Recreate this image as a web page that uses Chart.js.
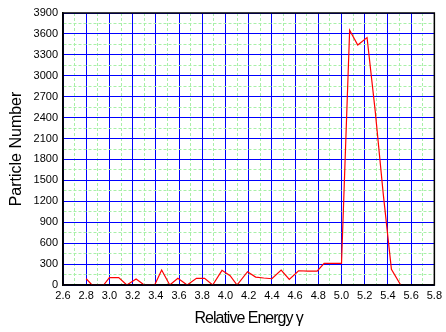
<!DOCTYPE html>
<html>
<head>
<meta charset="utf-8">
<script src="https://cdn.jsdelivr.net/npm/chart.js@4/dist/chart.umd.min.js"></script>
<style>
html,body{margin:0;padding:0;background:#fff;}
#wrap{width:446px;height:332px;position:relative;}
</style>
</head>
<body>
<div id="wrap"><canvas id="c"></canvas></div>
<script>
// Data
const energy = [2.80, 2.85, 2.95, 3.00, 3.08, 3.15, 3.23, 3.30, 3.39, 3.45, 3.52, 3.59, 3.67, 3.75, 3.82, 3.89, 3.97, 4.04, 4.10, 4.19, 4.26, 4.33, 4.40, 4.48, 4.55, 4.63, 4.71, 4.79, 4.85, 4.92, 5.00, 5.07, 5.14, 5.22, 5.29, 5.36, 5.43, 5.51];
const particles = [90, 0, 0, 105, 105, 0, 86, 0, 0, 214, 0, 95, 0, 95, 95, 0, 210, 133, 0, 190, 114, 100, 90, 214, 81, 204, 200, 200, 310, 310, 310, 3653, 3440, 3548, 2500, 1300, 224, 0];
const xTickLabels = ['2.6','2.8','3.0','3.2','3.4','3.6','3.8','4.0','4.2','4.4','4.6','4.8','5.0','5.2','5.4','5.6','5.8'];
const yTickLabels = ['0','300','600','900','1200','1500','1800','2100','2400','2700','3000','3300','3600','3900'];
const xTitle = 'Relative Energy \u03B3';
const yTitle = 'Particle Number';

const xMin = 2.6, xMax = 5.8, yMin = 0, yMax = 3900;
const isMajorX = v => Math.round(v * 10) % 2 === 0;
const isMajorY = v => Math.round(v) % 300 === 0;

const framePlugin = {
  id: 'frame',
  afterDraw(chart) {
    const {ctx, chartArea: a} = chart;
    ctx.save();
    ctx.strokeStyle = '#000';
    ctx.lineWidth = 1.5;
    ctx.setLineDash([]);
    ctx.strokeRect(a.left, a.top, a.right - a.left, a.bottom - a.top);
    ctx.restore();
  }
};

function condenseTitle(s, spacing) {
  if (s._condensed) return;
  s._condensed = true;
  const orig = s.drawTitle;
  s.drawTitle = function () {
    const ctx = this.ctx;
    ctx.save();
    ctx.letterSpacing = spacing;
    orig.apply(this, arguments);
    ctx.restore();
  };
}

new Chart(document.getElementById('c'), {
  type: 'line',
  data: {
    datasets: [{
      data: energy.map((x, i) => ({x: x, y: particles[i]})),
      borderColor: '#ff0000',
      borderWidth: 1.2,
      pointRadius: 0,
      tension: 0,
      fill: false
    }]
  },
  options: {
    responsive: true,
    maintainAspectRatio: false,
    animation: false,
    devicePixelRatio: 1,
    layout: {padding: {top: 13, right: 9, left: 0, bottom: 0}},
    plugins: {legend: {display: false}, tooltip: {enabled: false}},
    scales: {
      x: {
        type: 'linear',
        min: xMin, max: xMax,
        afterFit: s => { s.height = 47; condenseTitle(s, '-1px'); },
        ticks: {
          stepSize: 0.1,
          autoSkip: false,
          maxRotation: 0,
          padding: 4,
          color: '#000',
          font: {family: 'Liberation Sans, Arial, sans-serif', size: 11},
          callback: v => {
            const lbl = Number(v).toFixed(1);
            return isMajorX(v) && xTickLabels.includes(lbl) ? lbl : '';
          }
        },
        grid: {
          drawTicks: false,
          color: c => isMajorX(c.tick.value) ? '#0000ff' : '#a8f0a8',
          lineWidth: 1
        },
        border: {
          color: '#000', width: 1.5,
          dash: c => (c.tick && !isMajorX(c.tick.value)) ? [3, 2] : []
        },
        title: {
          display: true,
          text: xTitle,
          color: '#000',
          font: {family: 'Liberation Sans, Arial, sans-serif', size: 16},
          padding: {top: 0, bottom: 4}
        }
      },
      y: {
        type: 'linear',
        min: yMin, max: yMax,
        afterFit: s => { s.width = 63; },
        ticks: {
          stepSize: 150,
          autoSkip: false,
          padding: 5,
          color: '#000',
          font: {family: 'Liberation Sans, Arial, sans-serif', size: 11},
          callback: v => {
            const lbl = String(Math.round(v));
            return isMajorY(v) && yTickLabels.includes(lbl) ? lbl : '';
          }
        },
        grid: {
          drawTicks: false,
          color: c => isMajorY(c.tick.value) ? '#0000ff' : '#a8f0a8',
          lineWidth: 1
        },
        border: {
          color: '#000', width: 1.5,
          dash: c => (c.tick && !isMajorY(c.tick.value)) ? [3, 2] : []
        },
        title: {
          display: true,
          text: yTitle,
          color: '#000',
          font: {family: 'Liberation Sans, Arial, sans-serif', size: 16},
          padding: {top: 7, bottom: 0}
        }
      }
    }
  },
  plugins: [framePlugin]
});
</script>
</body>
</html>
